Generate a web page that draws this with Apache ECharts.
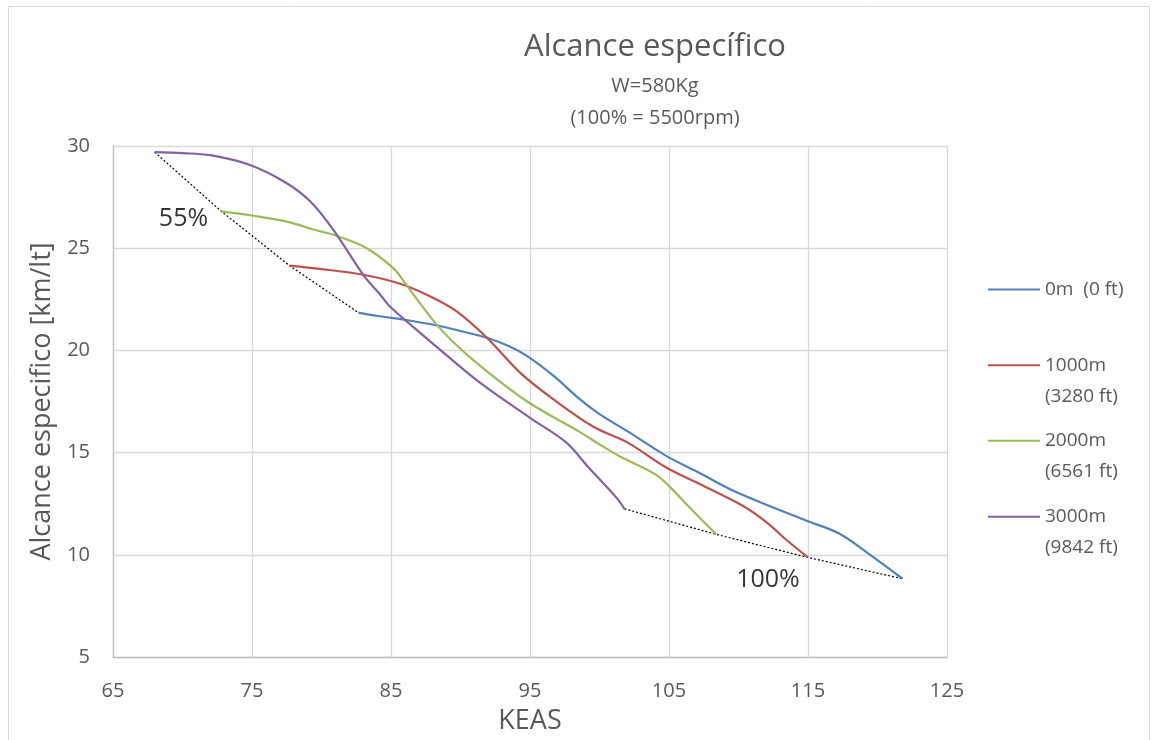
<!DOCTYPE html>
<html>
<head>
    <meta charset="utf-8">
    <title>Alcance específico</title>
    <script src="https://cdn.jsdelivr.net/npm/echarts@6/dist/echarts.min.js"></script>
</head>
<body style="margin:0;background:#fff;">
<style type="text/css">
#alcance{width: 1156px; height: 740px;}
</style>
    <div id="alcance"></div>
    <script type="text/javascript">
        // datos: [KEAS, km/lt]
        var names = ['0m  (0 ft)', '1000m\n(3280 ft)', '2000m\n(6561 ft)', '3000m\n(9842 ft)'];
        var colors = ['#4F81BD', '#C0504D', '#9BBB59', '#8064A2'];

        var s0m = [[82.65,21.85],[84.2,21.67],[86,21.5],[88.3,21.22],[90,20.95],[91.9,20.62],[93.5,20.2],
            [94.8,19.72],[96.7,18.75],[98.6,17.6],[100,16.88],[102,16.05],[104.8,14.84],[107.2,14.0],
            [109.6,13.14],[112,12.45],[114.9,11.67],[117.3,11.02],[119.2,10.13],[121.8,8.83]];
        var s1000m = [[77.7,24.15],[80,23.98],[83,23.7],[85.6,23.27],[87.8,22.65],[89.7,21.92],[91.9,20.62],
            [94.3,18.9],[96.7,17.6],[99.6,16.25],[102,15.5],[104.8,14.27],[107.2,13.46],[110.3,12.4],
            [112,11.6],[113.5,10.7],[115,9.87]];
        var s2000m = [[72.8,26.8],[75,26.6],[77.5,26.3],[79.5,25.9],[81.1,25.6],[83.25,25.0],[85.2,24.0],
            [86,23.3],[87.1,22.3],[88.3,21.25],[89.8,20.2],[91.4,19.25],[94.8,17.5],[98.6,16.0],[100,15.4],
            [101.5,14.8],[102.4,14.5],[104.1,13.9],[105.1,13.3],[106.5,12.3],[108.4,11.0]];
        var s3000m = [[68,29.7],[70,29.65],[72,29.55],[74.86,29.07],[77.5,28.18],[79.2,27.28],[80.85,25.9],
            [83,23.7],[84.2,22.75],[84.9,22.16],[87.1,20.86],[88.5,20.05],[91.4,18.42],[95,16.7],[97.6,15.5],
            [99.1,14.36],[101.2,12.81],[101.8,12.25]];

        // lineas de 55% y 100% (inicio y fin de cada curva)
        var linea55 = [[68,29.7],[72.8,26.8],[77.7,24.15],[82.65,21.85]];
        var linea100 = [[101.8,12.25],[108.4,11.0],[115,9.87],[121.8,8.83]];
        var etiquetas = [{value: [70.07,26.44], texto: '55%'}, {value: [112.12,8.75], texto: '100%'}];

        var curvas = [s0m, s1000m, s2000m, s3000m];
        var fuente = '"Open Sans", "Noto Sans", sans-serif';
        var gris = '#595959';

        var chart = echarts.init(document.getElementById('alcance'));

        var series = [];
        for (var i = 0; i < curvas.length; i++) {
            series.push({
                name: names[i],
                type: 'line',
                data: curvas[i],
                smooth: 0.35,
                showSymbol: false,
                symbol: 'none',
                color: colors[i],
                lineStyle: {width: 2.2, color: colors[i]},
                z: 3
            });
        }
        [linea55, linea100].forEach(function (d) {
            series.push({
                name: 'limite',
                type: 'line',
                data: d,
                symbol: 'none',
                silent: true,
                lineStyle: {width: 1.2, color: '#000', type: [2, 2]},
                z: 2
            });
        });
        series.push({
            name: 'pct',
            type: 'scatter',
            symbolSize: 0,
            silent: true,
            data: etiquetas.map(function (e) { return {value: e.value, texto: e.texto}; }),
            label: {
                show: true,
                position: 'inside',
                fontFamily: fuente,
                fontSize: 25,
                color: '#000',
                formatter: function (p) { return p.data.texto; }
            }
        });

        // leyendas separadas para ubicar cada una; linea vacia arriba para
        // que el icono quede a la altura de la primera linea del texto
        var legendTops = [274, 365.3 - 46.5, 440.7 - 46.5, 516.7 - 46.5];
        var legends = names.map(function (n, i) {
            return {
                data: [n],
                orient: 'vertical',
                left: 988,
                top: legendTops[i],
                padding: 0,
                icon: 'rect',
                itemWidth: 52,
                itemHeight: 2,
                selectedMode: false,
                formatter: function (name) {
                    return name.indexOf('\n') >= 0 ? ' \n' + name : name;
                },
                textStyle: {
                    fontFamily: fuente,
                    fontSize: 19,
                    color: gris,
                    lineHeight: 31
                }
            };
        });

        chart.setOption({
            backgroundColor: '#fff',
            animation: false,
            title: {
                text: 'Alcance específico',
                subtext: 'W=580Kg\n(100% = 5500rpm)',
                left: 650,
                top: 27,
                textAlign: 'center',
                itemGap: 7,
                textStyle: {fontFamily: fuente, fontSize: 31, fontWeight: 'normal', color: gris},
                subtextStyle: {fontFamily: fuente, fontSize: 20, color: gris, lineHeight: 32}
            },
            legend: legends,
            grid: {left: 113, top: 146, width: 834, height: 512, containLabel: false},
            xAxis: {
                type: 'value',
                min: 65, max: 125, interval: 10,
                name: 'KEAS',
                nameLocation: 'middle',
                nameGap: 51,
                nameTextStyle: {fontFamily: fuente, fontSize: 27, color: gris},
                axisLine: {show: true, lineStyle: {color: '#bfbfbf', width: 1.3}},
                axisTick: {show: false},
                axisLabel: {fontFamily: fuente, fontSize: 20, color: gris, margin: 24},
                splitLine: {show: true, lineStyle: {color: '#d9d9d9', width: 1.3}}
            },
            yAxis: {
                type: 'value',
                min: 5, max: 30, interval: 5,
                name: 'Alcance especifico [km/lt]',
                nameLocation: 'middle',
                nameGap: 57,
                nameTextStyle: {fontFamily: fuente, fontSize: 27, color: gris},
                axisLine: {show: true, lineStyle: {color: '#bfbfbf', width: 1.3}},
                axisTick: {show: false},
                axisLabel: {fontFamily: fuente, fontSize: 20, color: gris, margin: 23},
                splitLine: {show: true, lineStyle: {color: '#d9d9d9', width: 1.3}}
            },
            graphic: [{
                type: 'rect',
                shape: {x: 8.5, y: 6.5, width: 1141, height: 760},
                style: {fill: 'none', stroke: '#d9d9d9', lineWidth: 1},
                silent: true,
                z: -1
            }],
            series: series
        });
    </script>
</body>
</html>
